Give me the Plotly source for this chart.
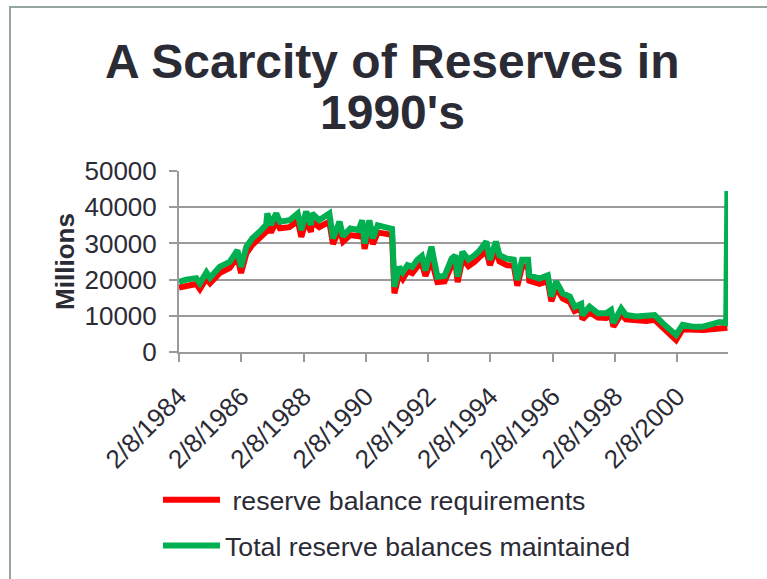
import plotly.graph_objects as go

# ---- data (millions of dollars) ----
dates = [
    "1984-02-08", "1984-05-02", "1984-08-29", "1984-10-10", "1984-12-26",
    "1985-02-06", "1985-05-29", "1985-09-25", "1985-12-25", "1986-02-05",
    "1986-04-09", "1986-06-18", "1986-09-10", "1986-11-26", "1986-12-10",
    "1987-01-21", "1987-03-25", "1987-05-06", "1987-08-26", "1987-12-02",
    "1988-01-13", "1988-03-09", "1988-05-04", "1988-05-18", "1988-08-10",
    "1988-12-07", "1989-01-18", "1989-04-05", "1989-05-17", "1989-08-09",
    "1989-11-15", "1989-12-27", "1990-01-24", "1990-03-21", "1990-05-02",
    "1990-06-27", "1990-09-19", "1990-12-12", "1991-01-09", "1991-03-06",
    "1991-04-17", "1991-06-12", "1991-08-07", "1991-10-02", "1991-11-27",
    "1992-01-08", "1992-03-18", "1992-04-29", "1992-05-27", "1992-08-19",
    "1992-11-11", "1992-12-23", "1993-01-20", "1993-03-17", "1993-05-26",
    "1993-08-04", "1993-09-29", "1993-12-22", "1994-02-02", "1994-04-13",
    "1994-05-25", "1994-08-17", "1994-11-09", "1994-12-21", "1995-02-15",
    "1995-04-26", "1995-05-10", "1995-09-06", "1995-12-13", "1996-01-24",
    "1996-03-20", "1996-06-05", "1996-08-28", "1996-10-23", "1997-01-08",
    "1997-01-22", "1997-04-16", "1997-07-23", "1997-10-29", "1997-12-24",
    "1998-01-21", "1998-04-22", "1998-06-17", "1998-10-14", "1999-02-10",
    "1999-05-19", "1999-08-25", "1999-12-01", "2000-01-26", "2000-04-12",
    "2000-08-09", "2000-12-06", "2001-03-14", "2001-06-20", "2001-09-05",
    "2001-09-19",
]

total_maintained = [
    19400, 20000, 20400, 19000, 22000,
    20500, 23500, 24900, 28100, 23500,
    29100, 31400, 33200, 35100, 38300,
    35100, 38300, 36000, 36400, 38300,
    33700, 38800, 35100, 38300, 36400,
    38300, 31400, 36000, 32000, 34100,
    33700, 36400, 30000, 36400, 31400,
    35000, 34500, 34000, 18000, 23500,
    22000, 24000, 23500, 25400, 26500,
    22500, 29100, 23500, 20800, 21000,
    25800, 26700, 20800, 27700, 25500,
    26700, 27900, 30500, 25500, 30500,
    26700, 25800, 25500, 19900, 25500,
    25500, 21200, 20300, 21200, 15300,
    19500, 16200, 15300, 12500, 13300,
    10200, 12500, 10700, 10700, 11600,
    8000, 12000, 10200, 9800, 9800,
    10200, 7900, 6100, 4700, 7500,
    7000, 7000, 7500, 8300, 8000,
    44500,
]

requirements = [
    17800, 18300, 18800, 17400, 20300,
    19000, 21800, 23200, 26300, 21800,
    27300, 29600, 31300, 33200, 35600,
    33000, 36000, 34200, 34500, 36200,
    31800, 36500, 33200, 36000, 34500,
    36000, 29800, 34000, 30500, 32300,
    32000, 34300, 28500, 34200, 29800,
    33000, 32700, 32300, 16200, 21700,
    20200, 22300, 21800, 23500, 24500,
    21000, 25500, 21800, 19300, 19500,
    24000, 25000, 19300, 25800, 23700,
    24900, 26000, 28000, 24000, 28200,
    25000, 24000, 23800, 18300, 23700,
    23600, 19700, 18800, 19600, 14000,
    17800, 14800, 13800, 11300, 12000,
    9000, 11000, 9500, 9400, 10200,
    7000, 10500, 9000, 8600, 8600,
    8900, 6800, 5000, 3300, 6300,
    6000, 6100, 6300, 6600, 6500,
    6700,
]

x_tick_dates = ["1984-02-08", "1986-02-08", "1988-02-08", "1990-02-08",
                "1992-02-08", "1994-02-08", "1996-02-08", "1998-02-08",
                "2000-02-08"]
x_tick_text = ["2/8/1984", "2/8/1986", "2/8/1988", "2/8/1990", "2/8/1992",
               "2/8/1994", "2/8/1996", "2/8/1998", "2/8/2000"]
y_tick_vals = [0, 10000, 20000, 30000, 40000, 50000]

# ---- styling ----
FONT = "Liberation Sans, Arial, sans-serif"
TXT = "#2b2b36"
GRID = "#9a9a9a"
W, H = 767, 579
L, R, T, B = 179, 39, 171, 227
PW, PH = W - L - R, H - T - B


def px_to_paper_x(px):
    return (px - L) / PW


def px_to_paper_y(py):
    return (H - B - py) / PH


fig = go.Figure()
fig.add_trace(go.Scatter(
    x=dates, y=requirements, mode="lines",
    name="\u00a0reserve balance requirements",
    line=dict(color="#ff0000", width=6), legendgroup="a",
))
fig.add_trace(go.Scatter(
    x=dates, y=total_maintained, mode="lines",
    name="Total reserve balances maintained",
    line=dict(color="#00b050", width=6), legendgroup="b",
))

fig.update_layout(
    width=W, height=H,
    margin=dict(l=L, r=R, t=T, b=B, pad=0, autoexpand=False),
    paper_bgcolor="white", plot_bgcolor="white",
    font=dict(family=FONT, size=26, color=TXT),
    showlegend=True,
    legend=dict(
        orientation="v", x=px_to_paper_x(158), y=px_to_paper_y(476),
        xanchor="left", yanchor="top",
        font=dict(size=26.7, color=TXT), itemwidth=57,
        tracegroupgap=8, bgcolor="rgba(0,0,0,0)",
        traceorder="grouped",
    ),
    xaxis=dict(
        type="date", automargin=False,
        range=["1984-02-08", "2001-09-26"],
        tickvals=x_tick_dates, ticktext=x_tick_text, tickangle=-45,
        showgrid=False, zeroline=False,
        showline=True, linecolor=GRID, linewidth=2,
        ticks="outside", ticklen=8, tickwidth=2, tickcolor=GRID,
        ticklabelstandoff=9,
        tickfont=dict(size=26, color=TXT),
    ),
    yaxis=dict(
        automargin=False,
        range=[0, 50000], tickvals=y_tick_vals, tickformat="d",
        showgrid=True, gridcolor=GRID, gridwidth=2,
        zeroline=False, showline=True, linecolor=GRID, linewidth=2,
        ticks="outside", ticklen=8, tickwidth=2, tickcolor=GRID,
        ticklabelstandoff=7,
        tickfont=dict(size=26, color=TXT),
        title=dict(text="<b>Millions</b>", font=dict(size=26, color=TXT),
                   standoff=2),
    ),
    annotations=[
        dict(text="<b>A Scarcity of Reserves in</b>", xref="paper", yref="paper",
             x=px_to_paper_x(392.5), y=px_to_paper_y(61), xanchor="center",
             yanchor="middle", showarrow=False,
             font=dict(size=48, color=TXT, family=FONT)),
        dict(text="<b>1990's</b>", xref="paper", yref="paper",
             x=px_to_paper_x(392.5), y=px_to_paper_y(112), xanchor="center",
             yanchor="middle", showarrow=False,
             font=dict(size=48, color=TXT, family=FONT)),
    ],
    shapes=[
        dict(type="rect", xref="paper", yref="paper", layer="below",
             x0=px_to_paper_x(10), y0=px_to_paper_y(7),
             x1=px_to_paper_x(900), y1=px_to_paper_y(700),
             line=dict(color="#97a69c", width=2), fillcolor="rgba(0,0,0,0)"),
    ],
)

fig.write_html("out.html")
